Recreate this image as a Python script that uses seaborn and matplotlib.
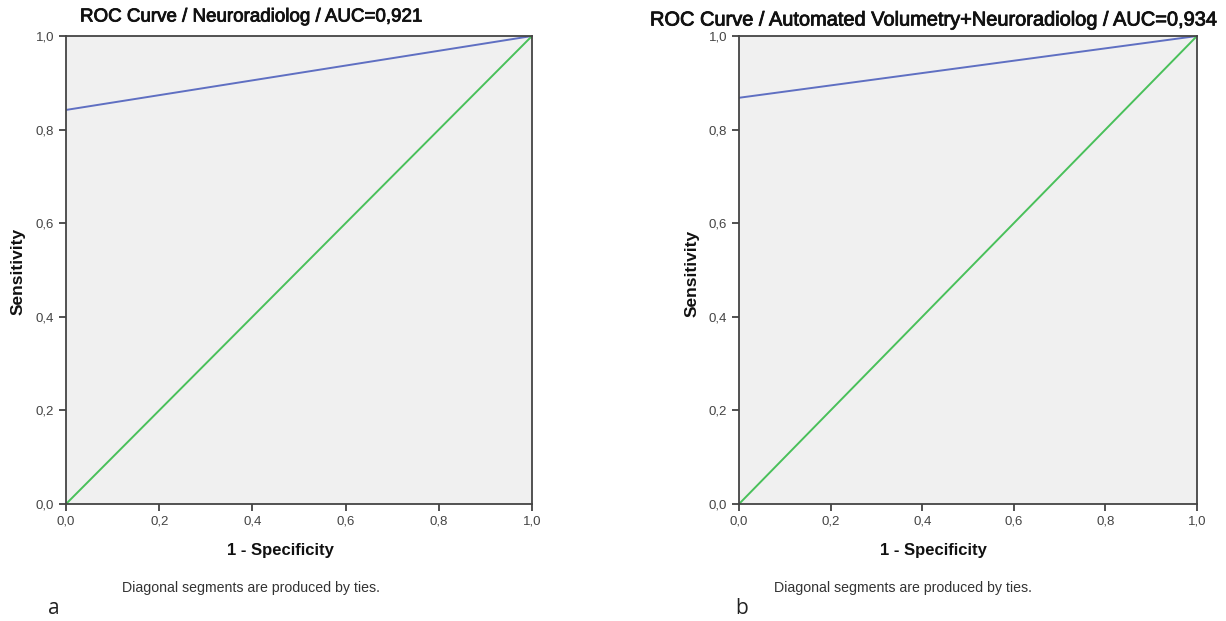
import matplotlib
matplotlib.use("Agg")
import matplotlib.pyplot as plt
import matplotlib.patheffects as pe
import seaborn as sns
import pandas as pd
from matplotlib.ticker import FuncFormatter

sns.set_theme(style="white")
plt.rcParams['font.family'] = ['Liberation Sans', 'DejaVu Sans']

# Data
titles = ["ROC Curve / Neuroradiolog / AUC=0,921",
          "ROC Curve / Automated Volumetry+Neuroradiolog / AUC=0,934"]
panel_letters = ["a", "b"]
roc_fpr = [[0.0, 1.0], [0.0, 1.0]]
roc_tpr = [[0.842, 1.0], [0.868, 1.0]]
ref_fpr = [0.0, 1.0]
ref_tpr = [0.0, 1.0]
ticks = [0.0, 0.2, 0.4, 0.6, 0.8, 1.0]
footnote = "Diagonal segments are produced by ties."

W, H = 1226, 621
fig = plt.figure(figsize=(W / 100, H / 100), dpi=100)

boxes = [(66, 36, 532, 504), (739, 36, 1197, 504)]
title_pos = [(80, 17, 13.5), (650, 20, 14.4)]
xlabel_pos = [(280, 550), (933, 550)]
ylabel_pos = [(18, 271), (692, 273)]
foot_pos = [(251, 588), (903, 588)]
letter_pos = [(48, 608), (735, 608)]

fmt = FuncFormatter(lambda v, p: f"{v:.1f}".replace(".", ","))

for i in range(2):
    x0, y0, x1, y1 = boxes[i]
    ax = fig.add_axes([x0 / W, 1 - y1 / H, (x1 - x0) / W, (y1 - y0) / H])
    ax.set_facecolor("#f0f0f0")
    sns.lineplot(x=roc_fpr[i], y=roc_tpr[i], ax=ax, color="#5f6fc2", linewidth=1.4)
    sns.lineplot(x=ref_fpr, y=ref_tpr, ax=ax, color="#49c05a", linewidth=1.4)
    ax.set_xlim(0, 1)
    ax.set_ylim(0, 1)
    ax.set_xticks(ticks)
    ax.set_yticks(ticks)
    ax.xaxis.set_major_formatter(fmt)
    ax.yaxis.set_major_formatter(fmt)
    ax.tick_params(axis="both", direction="out", length=5, width=1.2, color="#333333",
                   labelsize=9.5, labelcolor="#444444", pad=3.5,
                   bottom=True, left=True)
    for s in ax.spines.values():
        s.set_color("#444444")
        s.set_linewidth(1.3)
    ax.set_xlabel("")
    ax.set_ylabel("")
    tx, ty, ts = title_pos[i]
    fig.text(tx / W, 1 - ty / H, titles[i], ha="left", va="center",
             fontsize=ts, color="#111111",
             path_effects=[pe.withStroke(linewidth=0.6, foreground="#111111")])
    xx, xy = xlabel_pos[i]
    fig.text(xx / W, 1 - xy / H, "1 - Specificity", ha="center", va="center",
             fontsize=12, fontweight="bold", color="#111111")
    yx, yy = ylabel_pos[i]
    fig.text(yx / W, 1 - yy / H, "Sensitivity", ha="center", va="center", rotation=90,
             fontsize=12.5, fontweight="bold", color="#111111")
    fx, fy = foot_pos[i]
    fig.text(fx / W, 1 - fy / H, footnote, ha="center", va="center",
             fontsize=10.2, color="#333333")
    lx, ly = letter_pos[i]
    fig.text(lx / W, 1 - ly / H, panel_letters[i], ha="left", va="center",
             fontsize=15, color="#222222", family=["Open Sans", "DejaVu Sans"])

fig.savefig("out.png", dpi=100)
